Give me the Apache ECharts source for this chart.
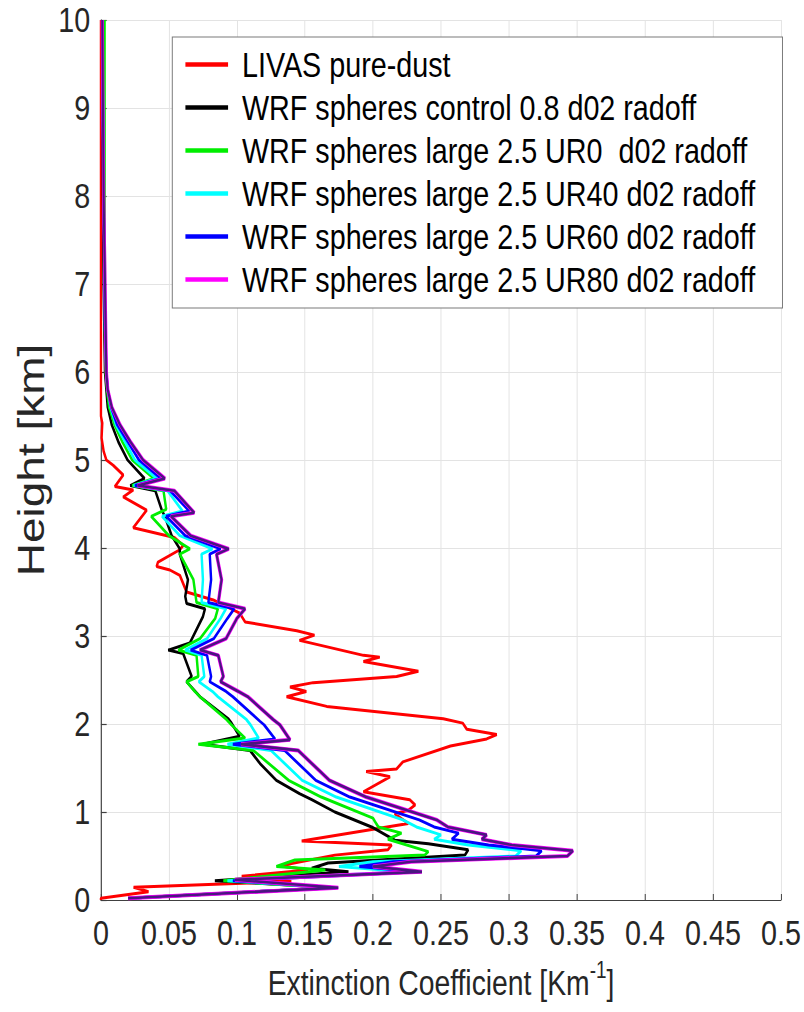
<!DOCTYPE html>
<html>
<head>
<meta charset="utf-8">
<script src="https://cdn.jsdelivr.net/npm/echarts@6/dist/echarts.min.js"></script>
<style>
  html, body { margin: 0; padding: 0; background: #ffffff; overflow: hidden; }
  #wrap { width: 804px; height: 1012px; overflow: hidden; }
  /* figure is laid out wide, then narrowed horizontally */
  #chart { width: 980px; height: 1012px; transform: scaleX(0.8204); transform-origin: 0 0; }
</style>
</head>
<body>
<div id="wrap"><div id="chart"></div></div>
<script>
// Extinction coefficient profiles: [extinction (km^-1), height (km)]
const livasPureDust = [
  [0,10],[0,5.5],[0.001,5.42],[0.0005,5.25],[0.002,5.1],[0.004,5.0],[0.009,4.94],[0.0164,4.83],
  [0.0103,4.70],[0.0238,4.66],[0.0164,4.58],[0.0336,4.43],[0.0238,4.23],[0.054,4.12],[0.0605,4.03],
  [0.058,3.98],[0.042,3.84],[0.041,3.79],[0.0507,3.75],[0.058,3.69],[0.063,3.5],[0.0826,3.41],
  [0.102,3.26],[0.106,3.16],[0.144,3.06],[0.157,3.01],[0.146,2.95],[0.193,2.78],[0.205,2.76],
  [0.193,2.71],[0.2334,2.60],[0.2174,2.54],[0.156,2.47],[0.139,2.42],[0.151,2.37],[0.1365,2.31],
  [0.166,2.2],[0.2517,2.06],[0.266,2.01],[0.269,1.94],[0.291,1.88],[0.2836,1.83],[0.257,1.75],
  [0.222,1.57],[0.2174,1.49],[0.195,1.46],[0.2125,1.40],[0.193,1.23],[0.227,1.14],[0.231,1.08],
  [0.226,1.02],[0.216,0.98],[0.226,0.87],[0.1476,0.67],[0.2137,0.625],[0.211,0.57],[0.172,0.51],
  [0.1316,0.39],[0.1524,0.34],[0.1035,0.27],[0.14,0.21],[0.024,0.145],[0.035,0.095],[0,0.02],[0,0]
];
const wrfControl08 = [
  [0.001,10],[0.001,9],[0.0015,8],[0.002,7],[0.0025,6.5],[0.003,6],[0.004,5.8],[0.005,5.6],
  [0.008,5.4],[0.013,5.2],[0.0196,5.0],[0.032,4.79],[0.0216,4.71],[0.040,4.65],[0.045,4.42],
  [0.047,4.36],[0.052,4.14],[0.058,3.99],[0.058,3.93],[0.064,3.64],[0.062,3.45],[0.063,3.37],
  [0.0765,3.31],[0.075,3.22],[0.0654,2.92],[0.0495,2.84],[0.0605,2.80],[0.0667,2.54],[0.063,2.48],
  [0.0728,2.31],[0.0936,2.06],[0.096,2.01],[0.102,1.86],[0.075,1.77],[0.1096,1.70],[0.117,1.55],
  [0.129,1.36],[0.146,1.21],[0.155,1.14],[0.172,1.0],[0.199,0.83],[0.216,0.68],[0.2407,0.64],
  [0.27,0.57],[0.2676,0.51],[0.167,0.42],[0.155,0.36],[0.182,0.32],[0.0838,0.22],[0.172,0.14],[0.02,0.02]
];
const wrfLargeUR0 = [
  [0.0027,10],[0.0027,9],[0.0027,8],[0.003,7],[0.003,6.5],[0.0035,6],[0.0045,5.8],[0.006,5.6],
  [0.010,5.4],[0.016,5.2],[0.023,5.0],[0.039,4.79],[0.023,4.71],[0.046,4.65],[0.048,4.44],
  [0.037,4.36],[0.05,4.14],[0.0654,3.99],[0.058,3.93],[0.068,3.64],[0.0703,3.38],[0.086,3.31],
  [0.084,3.2],[0.0728,2.97],[0.0569,2.84],[0.0703,2.78],[0.0716,2.54],[0.063,2.48],[0.069,2.37],
  [0.0728,2.31],[0.0924,2.05],[0.096,1.99],[0.106,1.84],[0.0716,1.77],[0.112,1.70],[0.138,1.36],
  [0.162,1.17],[0.2,0.93],[0.2015,0.89],[0.204,0.83],[0.221,0.76],[0.211,0.69],[0.2407,0.55],
  [0.238,0.51],[0.1426,0.455],[0.129,0.38],[0.165,0.34],[0.09,0.22],[0.17,0.14],[0.02,0.02]
];
const wrfLargeUR40 = [
  [0.001,10],[0.0015,9],[0.002,8],[0.0028,7],[0.003,6.5],[0.004,6],[0.005,5.8],[0.007,5.6],
  [0.011,5.4],[0.018,5.2],[0.025,5.0],[0.041,4.79],[0.024,4.71],[0.049,4.65],[0.060,4.42],
  [0.045,4.36],[0.058,4.14],[0.082,3.99],[0.074,3.93],[0.075,3.64],[0.074,3.38],[0.092,3.31],
  [0.088,3.2],[0.078,2.97],[0.062,2.84],[0.074,2.78],[0.076,2.54],[0.072,2.48],[0.082,2.37],
  [0.086,2.31],[0.107,2.05],[0.11,1.99],[0.116,1.84],[0.093,1.77],[0.125,1.70],[0.148,1.36],
  [0.173,1.17],[0.222,0.91],[0.232,0.83],[0.25,0.74],[0.245,0.69],[0.27,0.625],[0.309,0.56],
  [0.305,0.50],[0.2,0.435],[0.175,0.38],[0.225,0.32],[0.093,0.22],[0.172,0.14],[0.02,0.02]
];
const wrfLargeUR60 = [
  [0.001,10],[0.0015,9],[0.002,8],[0.0028,7],[0.003,6.5],[0.004,6],[0.005,5.8],[0.0075,5.6],
  [0.012,5.4],[0.02,5.2],[0.028,5.0],[0.044,4.79],[0.025,4.71],[0.051,4.65],[0.065,4.42],
  [0.048,4.36],[0.062,4.14],[0.088,3.99],[0.08,3.93],[0.081,3.64],[0.079,3.38],[0.098,3.31],
  [0.093,3.2],[0.083,2.97],[0.066,2.84],[0.078,2.78],[0.081,2.54],[0.080,2.48],[0.092,2.37],
  [0.097,2.31],[0.117,2.03],[0.12,1.99],[0.128,1.83],[0.097,1.77],[0.135,1.70],[0.158,1.36],
  [0.183,1.17],[0.234,0.91],[0.245,0.83],[0.263,0.76],[0.258,0.69],[0.285,0.625],[0.324,0.56],
  [0.32,0.50],[0.215,0.435],[0.19,0.38],[0.233,0.32],[0.097,0.22],[0.173,0.14],[0.02,0.02]
];
const wrfLargeUR80 = [
  [0.001,10],[0.0015,9],[0.002,8],[0.003,7],[0.0035,6.5],[0.004,6],[0.005,5.8],[0.008,5.6],
  [0.014,5.4],[0.022,5.2],[0.031,5.0],[0.047,4.79],[0.027,4.71],[0.054,4.65],[0.0686,4.40],
  [0.0515,4.36],[0.066,4.14],[0.094,3.99],[0.085,3.93],[0.0887,3.64],[0.0863,3.38],[0.106,3.31],
  [0.1,3.2],[0.092,2.97],[0.0728,2.84],[0.0863,2.78],[0.090,2.54],[0.088,2.48],[0.101,2.37],
  [0.108,2.31],[0.1267,2.05],[0.1316,1.99],[0.139,1.82],[0.103,1.77],[0.145,1.70],[0.168,1.36],
  [0.195,1.17],[0.247,0.91],[0.255,0.83],[0.2836,0.74],[0.28,0.69],[0.302,0.625],[0.347,0.56],
  [0.343,0.50],[0.228,0.435],[0.20,0.38],[0.236,0.32],[0.0985,0.23],[0.1745,0.14],[0.02,0.02]
];

const seriesNames = [
  'LIVAS pure-dust',
  'WRF spheres control 0.8 d02 radoff',
  'WRF spheres large 2.5 UR0  d02 radoff',
  'WRF spheres large 2.5 UR40 d02 radoff',
  'WRF spheres large 2.5 UR60 d02 radoff',
  'WRF spheres large 2.5 UR80 d02 radoff'
];
const seriesData = [livasPureDust, wrfControl08, wrfLargeUR0, wrfLargeUR40, wrfLargeUR60, wrfLargeUR80];
const seriesColors = ['#ff0000', '#000000', '#00ee00', '#00ffff', '#0000ff', '#ff00ff'];

const xTicks = { min: 0, max: 0.5, interval: 0.05 };
const yTicks = { min: 0, max: 10, interval: 1 };

const FONT = '"Liberation Sans", Arial, Helvetica, sans-serif';
const axisGray = '#404040';
const textGray = '#262626';

const series = seriesData.map((d, i) => ({
  name: seriesNames[i],
  type: 'line',
  data: d,
  showSymbol: false,
  symbol: 'none',
  animation: false,
  z: 2 + i,
  lineStyle: { color: seriesColors[i], width: i === 5 ? 4 : 3 },
  itemStyle: { color: seriesColors[i] }
}));
// dark core drawn over the magenta UR80 profile
series.push({
  name: seriesNames[5],
  type: 'line',
  data: wrfLargeUR80,
  showSymbol: false,
  symbol: 'none',
  animation: false,
  z: 9,
  lineStyle: { color: '#4a1680', width: 2.6 },
  itemStyle: { color: '#ff00ff' }
});

const chart = echarts.init(document.getElementById('chart'), null, { renderer: 'svg' });
chart.setOption({
  backgroundColor: '#ffffff',
  animation: false,
  grid: { left: 123, right: 28, top: 20, bottom: 112, containLabel: false },
  legend: {
    data: seriesNames.map((n, i) => ({ name: n, icon: 'rect', itemStyle: { color: seriesColors[i] } })),
    orient: 'vertical',
    left: 210,
    top: 37,
    itemWidth: 52,
    itemHeight: 4.5,
    itemGap: 8,
    padding: [10, 33, 11, 16],
    backgroundColor: '#ffffff',
    borderColor: '#7a7a7a',
    borderWidth: 1.2,
    borderRadius: 0,
    selectedMode: false,
    textStyle: { fontFamily: FONT, fontSize: 35, color: '#000000', lineHeight: 34, padding: [0, 0, 0, 12] }
  },
  xAxis: {
    type: 'value',
    min: xTicks.min, max: xTicks.max, interval: xTicks.interval,
    name: '{a|Extinction Coefficient [Km}{s|-1}{a|]}',
    nameLocation: 'middle',
    nameGap: 58,
    nameTextStyle: {
      rich: {
        a: { fontFamily: FONT, fontSize: 34.5, color: textGray, lineHeight: 42, verticalAlign: 'bottom' },
        s: { fontFamily: FONT, fontSize: 23, color: textGray, lineHeight: 42, verticalAlign: 'top' }
      }
    },
    axisLine: { show: true, lineStyle: { color: axisGray, width: 1.2 } },
    axisTick: { show: true, inside: true, length: 6, lineStyle: { color: axisGray, width: 1.2 } },
    axisLabel: { fontFamily: FONT, fontSize: 35, color: textGray, margin: 15 },
    splitLine: { show: true, lineStyle: { color: '#e3e3e3', width: 1.2 } }
  },
  yAxis: {
    type: 'value',
    min: yTicks.min, max: yTicks.max, interval: yTicks.interval,
    name: 'Height [km]',
    nameLocation: 'middle',
    nameGap: 52,
    nameRotate: 90,
    nameTextStyle: { fontFamily: FONT, fontSize: 46, color: textGray },
    axisLine: { show: true, lineStyle: { color: axisGray, width: 1.4 } },
    axisTick: { show: true, inside: true, length: 7, lineStyle: { color: axisGray, width: 1.2 } },
    axisLabel: { fontFamily: FONT, fontSize: 35, color: textGray, margin: 13 },
    splitLine: { show: true, lineStyle: { color: '#e3e3e3', width: 1.2 } }
  },
  series: series
});
</script>
</body>
</html>
